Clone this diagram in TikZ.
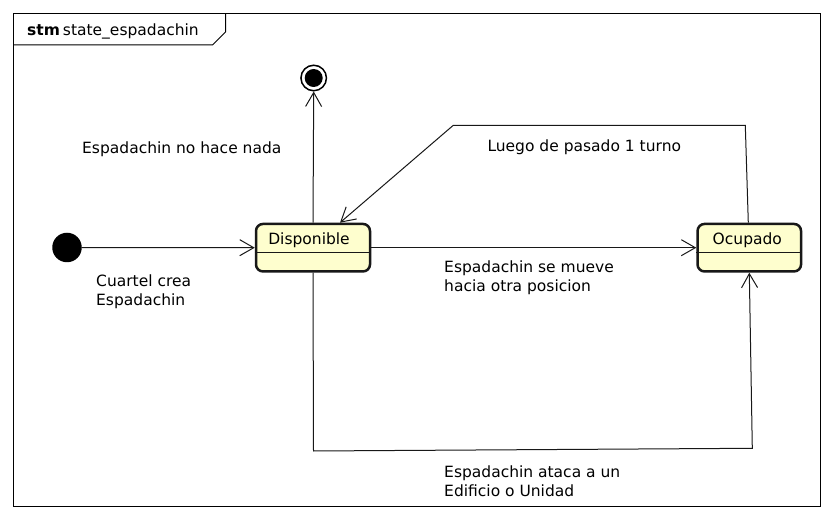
\documentclass[tikz,border=0pt]{standalone}
\usepackage{fontspec}
\setmainfont{DejaVu Sans}
\usetikzlibrary{arrows.meta}
\definecolor{statefill}{HTML}{FEFECE}
\definecolor{lineblack}{HTML}{181818}
\tikzset{
  lbl/.style={anchor=west, inner sep=0pt, align=left, font=\fontsize{15.5}{18.7}\selectfont},
  statebox/.style={draw=lineblack, line width=2.5pt, fill=statefill, rounded corners=7pt, minimum height=47.5pt, inner sep=0pt},
  stxt/.style={inner sep=0pt, font=\fontsize{15.5}{18.7}\selectfont},
  arr/.style={draw=lineblack, line width=1pt, -{Straight Barb[length=14pt,width=16pt,line width=1pt]}},
  con/.style={draw=lineblack, line width=1pt},
}
\begin{document}
\begin{tikzpicture}[x=1pt,y=-1pt]
\useasboundingbox (0,0) rectangle (833,518);
\fill[white] (0,0) rectangle (833,518);
% frame
\draw[line width=1pt] (13.5,13.5) rectangle (820.5,506.5);
\draw[line width=1pt] (13.5,45) -- (212.5,45) -- (225.5,32) -- (225.5,13.5);
\node[lbl] (title) at (27,31) {\textbf{stm}\hspace{3pt}state\_espadachin};
% states
\node[statebox, minimum width=114pt] (disp) at (313,247.7) {};
\node[stxt] (disptxt) at ([yshift=-17.5pt, xshift=-4pt]disp.north) {Disponible};
\draw[line width=1pt, lineblack] ([yshift=-29.5pt]disp.north west) -- ([yshift=-29.5pt]disp.north east);
\node[statebox, minimum width=103.5pt] (ocu) at (749.3,247.7) {};
\node[stxt] (ocutxt) at ([yshift=-17.5pt, xshift=-2pt]ocu.north) {Ocupado};
\draw[line width=1pt, lineblack] ([yshift=-29.5pt]ocu.north west) -- ([yshift=-29.5pt]ocu.north east);
% initial and final
\node[circle, fill=black, minimum size=29.5pt, inner sep=0pt] (init) at (67,247.5) {};
\node[circle, draw=black, line width=1.5pt, fill=white, minimum size=25.5pt, inner sep=0pt] (fin) at (313.7,78) {};
\node[circle, fill=black, minimum size=18pt, inner sep=0pt] (finin) at (313.7,78) {};
% coordinates
\coordinate (c1) at (745.3,125.3);
\coordinate (c2) at (453.3,125.3);
\coordinate (c3) at (313.5,451);
\coordinate (c4) at (752.3,448.3);
% connectors
\draw[arr] (init) -- (disp.west);
\draw[arr] (disp.north) -- (fin.south);
\draw[arr] (disp.east) -- (ocu.west);
\draw[arr] ([xshift=-1pt]ocu.north) -- (c1) -- (c2) -- ([xshift=27pt]disp.north);
\draw[arr] (disp.south) -- (c3) -- (c4) -- (ocu.south);
% labels
\node[lbl] (l1) at (82,149) {Espadachin no hace nada};
\node[lbl] (l2) at (96,291.5) {Cuartel crea\\Espadachin};
\node[lbl] (l3) at (487.3,147) {Luego de pasado 1 turno};
\node[lbl] (l4) at (444,277.8) {Espadachin se mueve\\hacia otra posicion};
\node[lbl] (l5) at (444,481) {Espadachin ataca a un\\Edificio o Unidad};
\end{tikzpicture}
\end{document}
